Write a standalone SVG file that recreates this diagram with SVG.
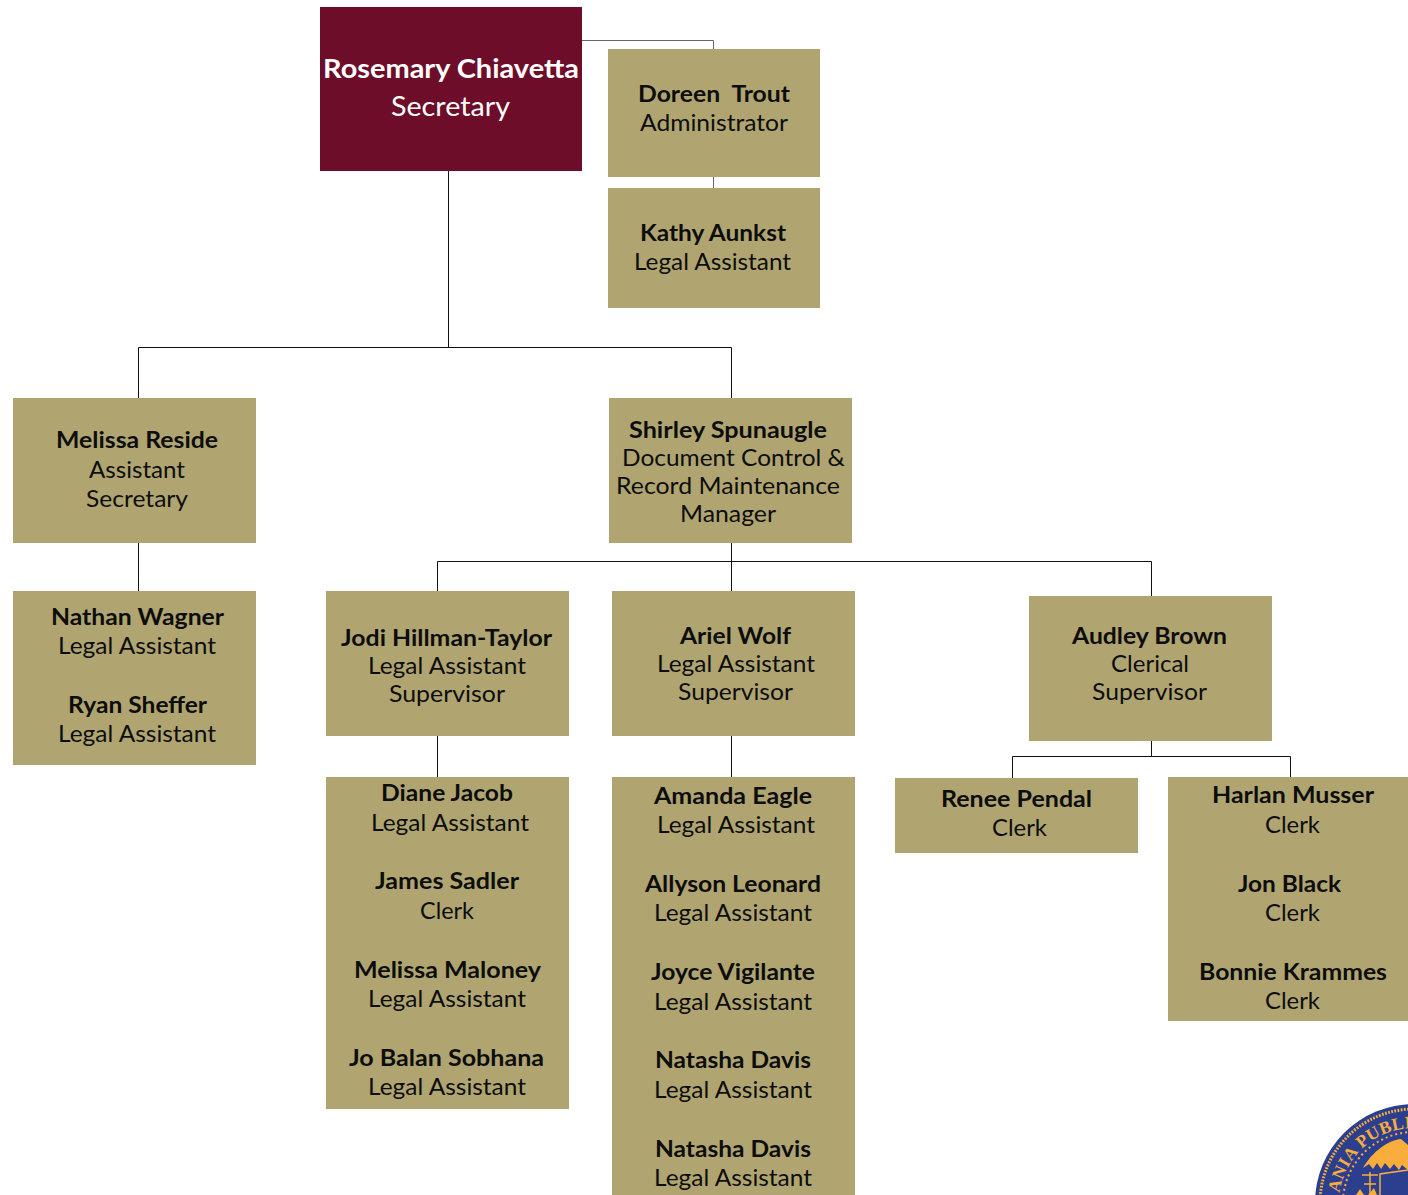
<svg xmlns="http://www.w3.org/2000/svg" width="1408" height="1195" viewBox="0 0 1408 1195">
<style>
text{font-family:Lato,"Open Sans","Liberation Sans",sans-serif;font-size:23.5px;text-anchor:middle;fill:#0d0d0d;white-space:pre}
.b{font-weight:700}
.box{fill:#b0a570}
.lead{fill:#fff;font-size:27px}
.c{fill:none;stroke:#111;stroke-width:1}
.g{stroke:#666}
</style>
<defs><path id="sealArc" d="M1339 1203A75 75 0 0 1 1428 1129.300"/></defs>
<g id="connectors">
<path class="c g" d="M582 40.500H713.500V49M713.500 177V188"/>
<path class="c" d="M448.500 171V347.500M138.500 398V347.500H731.500V398M138.500 543V591M731.500 543V591M437.500 591V561.500H1151.500V596M437.500 736V777M731.500 736V777M1151.500 741V756.500M1012.500 778V756.500H1290.500V777"/>
</g>
<g id="rosemary"><rect x="320" y="7" width="262" height="164" fill="#6e0d29"/>
<text class="lead b" x="451" y="78" textLength="256" lengthAdjust="spacingAndGlyphs">Rosemary Chiavetta</text>
<text class="lead" x="450.500" y="116" textLength="119" lengthAdjust="spacingAndGlyphs">Secretary</text></g>
<g id="doreen"><rect class="box" x="608" y="49" width="212" height="128"/>
<text class="b" x="714" y="102" textLength="152" lengthAdjust="spacingAndGlyphs">Doreen  Trout</text>
<text x="714" y="131" textLength="148" lengthAdjust="spacingAndGlyphs">Administrator</text></g>
<g id="kathy"><rect class="box" x="608" y="188" width="212" height="120"/>
<text class="b" x="713" y="241" textLength="146" lengthAdjust="spacingAndGlyphs">Kathy Aunkst</text>
<text x="712.500" y="270" textLength="157" lengthAdjust="spacingAndGlyphs">Legal Assistant</text></g>
<g id="melissa"><rect class="box" x="13" y="398" width="243" height="145"/>
<text class="b" x="137" y="448" textLength="162" lengthAdjust="spacingAndGlyphs">Melissa Reside</text>
<text x="137" y="478" textLength="96" lengthAdjust="spacingAndGlyphs">Assistant</text>
<text x="137" y="507" textLength="102" lengthAdjust="spacingAndGlyphs">Secretary</text></g>
<g id="shirley"><rect class="box" x="609" y="398" width="243" height="145"/>
<text class="b" x="728" y="438" textLength="198" lengthAdjust="spacingAndGlyphs">Shirley Spunaugle</text>
<text x="733.500" y="466" textLength="223" lengthAdjust="spacingAndGlyphs">Document Control &amp;</text>
<text x="728" y="494" textLength="224" lengthAdjust="spacingAndGlyphs">Record Maintenance</text>
<text x="728" y="522" textLength="96" lengthAdjust="spacingAndGlyphs">Manager</text></g>
<g id="nathan"><rect class="box" x="13" y="591" width="243" height="174"/>
<text class="b" x="137.500" y="625" textLength="173" lengthAdjust="spacingAndGlyphs">Nathan Wagner</text>
<text x="137" y="654" textLength="158" lengthAdjust="spacingAndGlyphs">Legal Assistant</text>
<text class="b" x="137.500" y="713" textLength="139" lengthAdjust="spacingAndGlyphs">Ryan Sheffer</text>
<text x="137" y="742" textLength="158" lengthAdjust="spacingAndGlyphs">Legal Assistant</text></g>
<g id="jodi"><rect class="box" x="326" y="591" width="243" height="145"/>
<text class="b" x="446.500" y="646" textLength="211" lengthAdjust="spacingAndGlyphs">Jodi Hillman-Taylor</text>
<text x="447" y="674" textLength="158" lengthAdjust="spacingAndGlyphs">Legal Assistant</text>
<text x="447" y="702" textLength="116" lengthAdjust="spacingAndGlyphs">Supervisor</text></g>
<g id="ariel"><rect class="box" x="612" y="591" width="243" height="145"/>
<text class="b" x="735.500" y="644" textLength="111" lengthAdjust="spacingAndGlyphs">Ariel Wolf</text>
<text x="736" y="672" textLength="158" lengthAdjust="spacingAndGlyphs">Legal Assistant</text>
<text x="735.500" y="700" textLength="115" lengthAdjust="spacingAndGlyphs">Supervisor</text></g>
<g id="audley"><rect class="box" x="1029" y="596" width="243" height="145"/>
<text class="b" x="1149.500" y="644" textLength="155" lengthAdjust="spacingAndGlyphs">Audley Brown</text>
<text x="1150" y="672" textLength="78" lengthAdjust="spacingAndGlyphs">Clerical</text>
<text x="1149.500" y="700" textLength="115" lengthAdjust="spacingAndGlyphs">Supervisor</text></g>
<g id="diane"><rect class="box" x="326" y="777" width="243" height="332"/>
<text class="b" x="447" y="801" textLength="132" lengthAdjust="spacingAndGlyphs">Diane Jacob</text>
<text x="450" y="831" textLength="158" lengthAdjust="spacingAndGlyphs">Legal Assistant</text>
<text class="b" x="447" y="889" textLength="144" lengthAdjust="spacingAndGlyphs">James Sadler</text>
<text x="447" y="919" textLength="54" lengthAdjust="spacingAndGlyphs">Clerk</text>
<text class="b" x="447.500" y="978" textLength="187" lengthAdjust="spacingAndGlyphs">Melissa Maloney</text>
<text x="447" y="1007" textLength="158" lengthAdjust="spacingAndGlyphs">Legal Assistant</text>
<text class="b" x="446.500" y="1066" textLength="195" lengthAdjust="spacingAndGlyphs">Jo Balan Sobhana</text>
<text x="447" y="1095" textLength="158" lengthAdjust="spacingAndGlyphs">Legal Assistant</text></g>
<g id="amanda"><rect class="box" x="612" y="777" width="243" height="418"/>
<text class="b" x="733" y="804" textLength="158" lengthAdjust="spacingAndGlyphs">Amanda Eagle</text>
<text x="736" y="833" textLength="158" lengthAdjust="spacingAndGlyphs">Legal Assistant</text>
<text class="b" x="733" y="892" textLength="176" lengthAdjust="spacingAndGlyphs">Allyson Leonard</text>
<text x="733" y="921" textLength="158" lengthAdjust="spacingAndGlyphs">Legal Assistant</text>
<text class="b" x="733" y="980" textLength="164" lengthAdjust="spacingAndGlyphs">Joyce Vigilante</text>
<text x="733" y="1010" textLength="158" lengthAdjust="spacingAndGlyphs">Legal Assistant</text>
<text class="b" x="733" y="1068" textLength="156" lengthAdjust="spacingAndGlyphs">Natasha Davis</text>
<text x="733" y="1098" textLength="158" lengthAdjust="spacingAndGlyphs">Legal Assistant</text>
<text class="b" x="733" y="1157" textLength="156" lengthAdjust="spacingAndGlyphs">Natasha Davis</text>
<text x="733" y="1186" textLength="158" lengthAdjust="spacingAndGlyphs">Legal Assistant</text></g>
<g id="renee"><rect class="box" x="895" y="778" width="243" height="75"/>
<text class="b" x="1016.500" y="807" textLength="151" lengthAdjust="spacingAndGlyphs">Renee Pendal</text>
<text x="1019.500" y="836" textLength="55" lengthAdjust="spacingAndGlyphs">Clerk</text></g>
<g id="harlan"><rect class="box" x="1168" y="777" width="240" height="244"/>
<text class="b" x="1293" y="803" textLength="162" lengthAdjust="spacingAndGlyphs">Harlan Musser</text>
<text x="1292.500" y="833" textLength="55" lengthAdjust="spacingAndGlyphs">Clerk</text>
<text class="b" x="1289.500" y="892" textLength="103" lengthAdjust="spacingAndGlyphs">Jon Black</text>
<text x="1292.500" y="921" textLength="55" lengthAdjust="spacingAndGlyphs">Clerk</text>
<text class="b" x="1293" y="980" textLength="188" lengthAdjust="spacingAndGlyphs">Bonnie Krammes</text>
<text x="1292.500" y="1009" textLength="55" lengthAdjust="spacingAndGlyphs">Clerk</text></g>
<g id="seal">
<circle cx="1414" cy="1203" r="99" fill="#2b3f8e"/>
<circle cx="1414" cy="1203" r="94" fill="none" stroke="#f9ad3c" stroke-width="3" stroke-dasharray="1.800 1.400"/>
<circle cx="1414" cy="1203" r="71" fill="none" stroke="#f9ad3c" stroke-width="2" stroke-dasharray="2 3"/>
<text style="font-family:'Liberation Serif',serif;font-size:17.500px;font-weight:700;fill:#f9ad3c;text-anchor:start;letter-spacing:.4px"><textPath href="#sealArc" startOffset="10">ANIA PUBLI</textPath></text>
<path fill="#f9ad3c" d="M1363 1168C1372 1152 1388 1140 1401 1139L1408 1145V1170L1402 1165L1399 1170L1394 1164L1390 1169L1385 1163L1381 1169L1377 1163L1373 1169L1369 1164Z"/>
<path fill="none" stroke="#f9ad3c" stroke-width="1.500" d="M1380 1195V1174L1408 1170M1362 1175H1378M1370 1172V1195M1364 1184H1376"/>
<path fill="#f9ad3c" d="M1356 1195L1360 1189L1364 1195ZM1368 1195L1374 1188L1377 1195Z"/>
</g>
</svg>
